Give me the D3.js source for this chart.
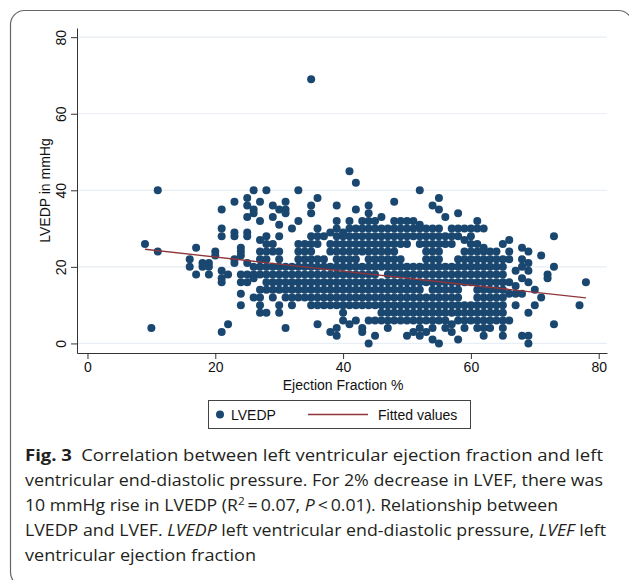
<!DOCTYPE html>
<html>
<head>
<meta charset="utf-8">
<script src="https://cdn.jsdelivr.net/npm/d3@7"></script>
<style>
  body { margin: 0; background: #fff; }
  svg { display: block; }
</style>
</head>
<body>
<script>

// Ejection fraction (%) columns, each with the LVEDP readings (mmHg) plotted above it
var columns = [
  [9, [26]],
  [10, [4]],
  [11, [40, 24]],
  [16, [22, 20]],
  [17, [25, 18]],
  [18, [21, 20]],
  [19, [21, 20, 18]],
  [20, [24, 23]],
  [21, [35, 30, 28, 19, 17, 16, 3]],
  [22, [18, 5]],
  [23, [37, 29, 28, 22, 21]],
  [24, [25, 24, 23, 18, 16, 13, 10]],
  [25, [38, 36, 33, 29, 28, 21, 18, 16]],
  [26, [40, 35, 34, 20, 18, 17, 12]],
  [27, [37, 32, 27, 24, 22, 20, 18, 14, 12, 10, 8]],
  [28, [40, 28, 26, 24, 22, 20, 18, 16, 14, 8]],
  [29, [36, 33, 26, 24, 20, 18, 16, 14, 12]],
  [30, [35, 31, 28, 24, 22, 20, 18, 16, 14, 10, 8]],
  [31, [37, 35, 34, 20, 18, 16, 14, 12, 4]],
  [32, [30, 20, 18, 16, 14, 12, 10]],
  [33, [40, 32, 26, 24, 22, 20, 18, 16, 14, 12]],
  [34, [26, 24, 22, 20, 18, 16, 14, 12]],
  [35, [69, 36, 34, 28, 26, 24, 22, 20, 18, 16, 14, 12, 10]],
  [36, [38, 30, 28, 26, 22, 20, 18, 16, 14, 12, 10, 5]],
  [37, [28, 22, 20, 18, 16, 14, 12, 10]],
  [38, [29, 26, 24, 20, 18, 16, 14, 12, 10, 3]],
  [39, [36, 32, 30, 28, 26, 24, 22, 20, 18, 16, 14, 12, 10, 4, 2]],
  [40, [29, 28, 26, 24, 22, 20, 18, 16, 14, 12, 10, 8, 6]],
  [41, [45, 32, 30, 28, 26, 24, 22, 20, 18, 16, 14, 12, 10, 5]],
  [42, [42, 35, 30, 28, 26, 24, 22, 20, 18, 16, 14, 12, 10, 6]],
  [43, [32, 30, 28, 26, 24, 20, 18, 16, 14, 12, 10, 4, 3]],
  [44, [36, 34, 32, 30, 28, 26, 24, 22, 20, 18, 16, 14, 12, 10, 6, 0]],
  [45, [32, 30, 28, 26, 24, 22, 20, 18, 16, 14, 12, 10, 6, 2]],
  [46, [33, 30, 28, 26, 24, 22, 20, 16, 14, 12, 10, 8, 6]],
  [47, [30, 28, 26, 24, 22, 20, 18, 16, 14, 12, 10, 8, 6, 4]],
  [48, [37, 32, 30, 28, 26, 24, 22, 20, 18, 16, 14, 12, 10, 8, 6]],
  [49, [32, 30, 28, 26, 22, 20, 18, 16, 14, 12, 10, 8, 6]],
  [50, [32, 30, 28, 26, 20, 18, 16, 14, 12, 10, 8, 6, 2]],
  [51, [32, 30, 28, 20, 18, 16, 14, 12, 10, 8, 6, 3]],
  [52, [40, 31, 30, 28, 26, 20, 18, 16, 14, 12, 10, 8, 6, 4, 2]],
  [53, [30, 28, 26, 24, 22, 20, 18, 16, 12, 10, 8, 6, 3]],
  [54, [36, 30, 28, 26, 24, 22, 20, 18, 16, 14, 12, 10, 8, 6, 4, 1]],
  [55, [38, 35, 30, 28, 26, 24, 22, 20, 18, 16, 14, 12, 10, 8, 6, 0]],
  [56, [33, 28, 26, 20, 18, 16, 14, 12, 10, 8, 6, 4]],
  [57, [30, 28, 26, 20, 18, 16, 14, 12, 10, 8, 5, 3]],
  [58, [34, 30, 28, 22, 20, 18, 16, 14, 12, 10, 8, 6, 1]],
  [59, [30, 27, 24, 22, 20, 18, 16, 10, 8, 6, 4]],
  [60, [30, 28, 26, 24, 22, 20, 18, 16, 10, 8, 6]],
  [61, [32, 30, 26, 24, 22, 20, 18, 16, 14, 12, 10, 8, 6, 4]],
  [62, [30, 25, 24, 22, 20, 18, 16, 14, 12, 10, 8, 6, 4, 2]],
  [63, [24, 22, 20, 18, 16, 14, 12, 10, 8, 6, 4]],
  [64, [24, 22, 20, 18, 16, 14, 12, 10, 8, 6]],
  [65, [26, 22, 20, 18, 16, 14, 12, 10, 8, 6, 4, 2]],
  [66, [27, 24, 22, 16, 13, 6]],
  [67, [19, 15, 13, 10]],
  [68, [25, 22, 20, 17, 13, 2]],
  [69, [24, 21, 19, 16, 8, 2, 0]],
  [70, [14, 10]],
  [71, [23, 12]],
  [72, [18, 17]],
  [73, [28, 20, 5]],
  [77, [10]],
  [78, [16]]
];

// fitted regression line end points
var fitEF = [9, 78];
var fitLVEDP = [24.6, 11.9];

var xTicks = [0, 20, 40, 60, 80];
var yTicks = [0, 20, 40, 60, 80];
var legendLabels = ["LVEDP", "Fitted values"];

var captionWidths = [578, 578, 533, 581, 231];
var captionLines = [
  [{t: "Fig. 3", b: 1}, {t: "\u2002Correlation between left ventricular ejection fraction and left"}],
  [{t: "ventricular end-diastolic pressure. For 2% decrease in LVEF, there was"}],
  [{t: "10 mmHg rise in LVEDP (R"}, {t: "2", sup: 1}, {t: "\u2009=\u20090.07, "}, {t: "P", i: 1}, {t: "\u2009<\u20090.01). Relationship between"}],
  [{t: "LVEDP and LVEF. "}, {t: "LVEDP", i: 1}, {t: " left ventricular end-diastolic pressure, "}, {t: "LVEF", i: 1}, {t: " left"}],
  [{t: "ventricular ejection fraction"}]
];

var width = 629, height = 580;
var plot = {left: 77, right: 607, top: 28, bottom: 353};
var navy = "#1a476f", maroon = "#90353b";
var chartFont = "'Liberation Sans', Arial, Helvetica, sans-serif";

var svg = d3.select("body").append("svg")
    .attr("width", width)
    .attr("height", height);

// outer frame
svg.append("rect")
    .attr("x", 10.5).attr("y", 10.5)
    .attr("width", 622).attr("height", 576)
    .attr("rx", 14)
    .style("fill", "none")
    .style("stroke", "#666")
    .style("stroke-width", 1.2);

var x = d3.scaleLinear().domain([-1.64, 81.3]).range([plot.left, plot.right]);
var y = d3.scaleLinear().domain([-2.5, 82.4]).range([plot.bottom, plot.top]);

// grid
svg.append("g").attr("class", "grid")
  .selectAll("line")
    .data(yTicks)
  .enter().append("line")
    .attr("x1", plot.left).attr("x2", plot.right)
    .attr("y1", function(d) { return y(d); })
    .attr("y2", function(d) { return y(d); })
    .style("stroke", "#e8eef3")
    .style("stroke-width", 1.2);

// axes
var yAxis = svg.append("g")
    .attr("transform", "translate(" + plot.left + ",0)")
    .call(d3.axisLeft(y).tickValues(yTicks).tickSize(6).tickSizeOuter(0));

yAxis.selectAll("text")
    .attr("x", 0).attr("y", -11).attr("dy", 0)
    .attr("transform", "rotate(-90)")
    .style("text-anchor", "middle");

var xAxis = svg.append("g")
    .attr("transform", "translate(0," + plot.bottom + ")")
    .call(d3.axisBottom(x).tickValues(xTicks).tickSize(6).tickSizeOuter(0));

xAxis.selectAll("text").attr("y", 9).attr("dy", "0.71em");

svg.selectAll(".domain, .tick line").style("stroke", "#333").style("stroke-width", 1);
svg.selectAll(".tick text")
    .style("font-family", chartFont)
    .style("font-size", "14px")
    .style("fill", "#111");

svg.append("text")
    .attr("transform", "translate(50," + ((plot.top + plot.bottom) / 2) + ") rotate(-90)")
    .style("text-anchor", "middle")
    .style("font-family", chartFont)
    .style("font-size", "14px")
    .style("fill", "#111")
    .text("LVEDP in mmHg");

svg.append("text")
    .attr("x", x(40)).attr("y", 390)
    .style("text-anchor", "middle")
    .style("font-family", chartFont)
    .style("font-size", "14px")
    .style("fill", "#111")
    .text("Ejection Fraction %");

// points
var points = [];
columns.forEach(function(c) {
  c[1].forEach(function(v) { points.push({ef: c[0], lvedp: v}); });
});

svg.append("g").attr("class", "points")
  .selectAll("circle")
    .data(points)
  .enter().append("circle")
    .attr("cx", function(d) { return x(d.ef); })
    .attr("cy", function(d) { return y(d.lvedp); })
    .attr("r", 4)
    .style("fill", navy);

// fitted values
var fit = fitEF.map(function(e, i) { return [e, fitLVEDP[i]]; });
svg.append("path")
    .datum(fit)
    .attr("d", d3.line().x(function(d) { return x(d[0]); }).y(function(d) { return y(d[1]); }))
    .style("fill", "none")
    .style("stroke", maroon)
    .style("stroke-width", 1.3);

// legend
var legend = svg.append("g").attr("class", "legend");
legend.append("rect")
    .attr("x", 208.5).attr("y", 400.5)
    .attr("width", 262).attr("height", 28)
    .style("fill", "#fff")
    .style("stroke", "#444")
    .style("stroke-width", 1);
legend.append("circle")
    .attr("cx", 220).attr("cy", 414.5).attr("r", 4)
    .style("fill", navy);
legend.append("line")
    .attr("x1", 308).attr("x2", 368)
    .attr("y1", 414.5).attr("y2", 414.5)
    .style("stroke", maroon)
    .style("stroke-width", 1.3);
legend.selectAll("text")
    .data(legendLabels)
  .enter().append("text")
    .attr("x", function(d, i) { return i === 0 ? 231 : 378; })
    .attr("y", 419.5)
    .style("font-family", chartFont)
    .style("font-size", "14px")
    .style("fill", "#111")
    .text(function(d) { return d; });

// caption
var caption = svg.append("g")
    .style("font-family", "'Open Sans', 'Noto Sans', sans-serif")
    .style("font-size", "16.5px")
    .style("fill", "#231f20");

captionLines.forEach(function(parts, li) {
  var t = caption.append("text")
      .attr("x", 25)
      .attr("y", 461 + li * 25)
      .attr("textLength", captionWidths[li])
      .attr("lengthAdjust", "spacingAndGlyphs");
  parts.forEach(function(p, pi) {
    var prevSup = pi > 0 && parts[pi - 1].sup;
    var s = t.append("tspan").text(p.t);
    if (p.b) s.style("font-weight", "bold");
    if (p.i) s.style("font-style", "italic");
    if (p.sup) s.attr("dy", -6).style("font-size", "11px");
    if (prevSup) s.attr("dy", 6);
  });
});

</script>
</body>
</html>
